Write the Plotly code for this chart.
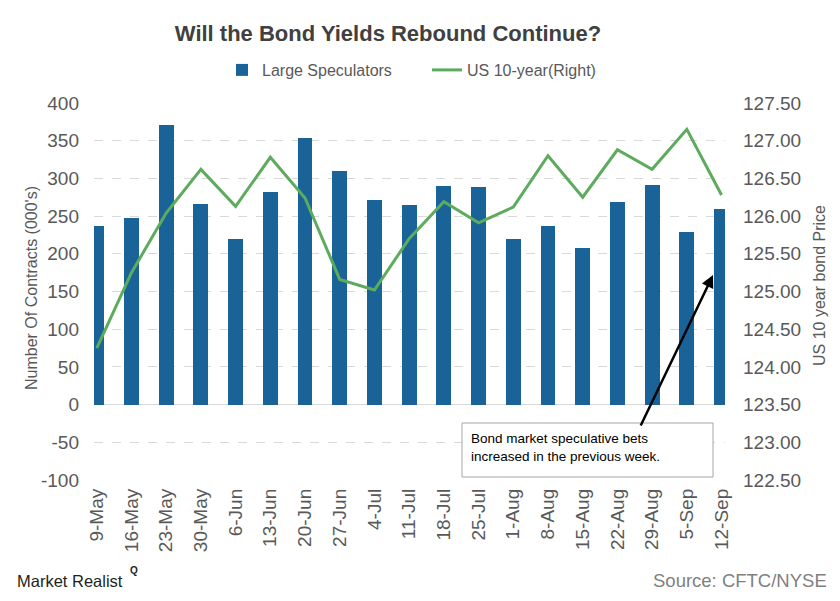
import plotly.graph_objects as go

# ---- data ----
dates = ["9-May", "16-May", "23-May", "30-May", "6-Jun", "13-Jun", "20-Jun", "27-Jun",
         "4-Jul", "11-Jul", "18-Jul", "25-Jul", "1-Aug", "8-Aug", "15-Aug", "22-Aug",
         "29-Aug", "5-Sep", "12-Sep"]
large_speculators = [237, 248, 371, 266, 220, 282, 354, 310, 272, 265, 290, 289,
                     219, 237, 208, 269, 291, 229, 260]
us_10_year = [124.25, 125.25, 126.04, 126.62, 126.13, 126.78, 126.24, 125.16, 125.02,
              125.70, 126.19, 125.91, 126.12, 126.80, 126.25, 126.88, 126.62, 127.15, 126.28]
left_ticks = [-100, -50, 0, 50, 100, 150, 200, 250, 300, 350, 400]
left_tick_labels = ["-100", "-50", "0", "50", "100", "150", "200", "250", "300", "350", "400"]
right_ticks = [122.5, 123.0, 123.5, 124.0, 124.5, 125.0, 125.5, 126.0, 126.5, 127.0, 127.5]

# page has an 8px body margin; work in reference-pixel coordinates
OFF = 8
W, H = 840 - 2 * OFF, 601 - 2 * OFF
L, R, T, B = 94, 725, 103, 480  # plot area in reference pixels


def px_x(x):
    return (x - L) / (R - L)


def px_y(y):
    return (B - y) / (B - T)


FONT = "Liberation Sans, Arial, sans-serif"
NARROW = "Liberation Sans Narrow, Arial Narrow, Liberation Sans, sans-serif"
GRAY = "#595959"
idx = list(range(len(dates)))

fig = go.Figure()
fig.add_trace(go.Bar(
    x=idx, y=large_speculators, name="Large Speculators",
    marker=dict(color="#1a6399", line=dict(width=0)), width=0.43,
))
fig.add_trace(go.Scatter(
    x=idx, y=us_10_year, name="US 10-year(Right)", yaxis="y2",
    mode="lines", line=dict(color="#5dab5d", width=3),
))

fig.update_layout(
    width=W, height=H,
    margin=dict(l=L - OFF, r=(840 - OFF) - R, t=T - OFF, b=(601 - OFF) - B, pad=0),
    paper_bgcolor="white", plot_bgcolor="white",
    font=dict(family=FONT, color=GRAY),
    showlegend=True,
    title=dict(text="<b>Will the Bond Yields Rebound Continue?</b>",
               font=dict(size=22, color="#404040", family=FONT),
               xref="container", yref="container", x=(388 - OFF) / W, y=1 - (33 - OFF) / H,
               xanchor="center", yanchor="middle"),
    legend=dict(orientation="h", x=px_x(222), y=px_y(70), xanchor="left", yanchor="middle",
                font=dict(size=16, color=GRAY), itemwidth=30, traceorder="normal",
                entrywidth=160, bgcolor="rgba(0,0,0,0)"),
    xaxis=dict(range=[-0.08, 18.1], tickmode="array", tickvals=idx, ticktext=dates,
               tickangle=-90, tickfont=dict(size=19, color=GRAY), showgrid=False,
               showline=False, zeroline=False, ticks="", ticklabelstandoff=4),
    yaxis=dict(range=[-100, 400], tickmode="array", tickvals=left_ticks,
               ticktext=left_tick_labels,
               tickfont=dict(size=19, color=GRAY), showgrid=True, gridcolor="#d9d9d9",
               griddash="dash", gridwidth=1, zeroline=True, zerolinecolor="#d9d9d9",
               zerolinewidth=1, showline=False, ticks="", ticklabelstandoff=14),
    yaxis2=dict(range=[122.5, 127.5], tickmode="array", tickvals=right_ticks,
                tickformat=".2f", overlaying="y", side="right", showgrid=False,
                zeroline=False, showline=False, ticks="",
                tickfont=dict(size=19, color=GRAY), ticklabelstandoff=17),
    bargap=0,
)

annotations = [
    dict(text="Number Of Contracts (000's)", x=px_x(31), y=px_y(288), xref="paper", yref="paper",
         textangle=-90, showarrow=False, font=dict(size=16, color=GRAY),
         xanchor="center", yanchor="middle"),
    dict(text="US 10 year bond Price", x=px_x(819), y=px_y(286), xref="paper", yref="paper",
         textangle=-90, showarrow=False, font=dict(size=16, color=GRAY),
         xanchor="center", yanchor="middle"),
    dict(text="Bond market speculative bets<br>increased in the previous week.",
         x=px_x(469), y=px_y(447), xref="paper", yref="paper", showarrow=False,
         align="left", xanchor="left", yanchor="middle",
         font=dict(size=13.5, color="#000000", family=NARROW)),
    dict(text="", x=px_x(713), y=px_y(275), xref="paper", yref="paper",
         showarrow=True, ax=640 - 713, ay=427 - 275, axref="pixel", ayref="pixel",
         arrowhead=2, arrowsize=1, arrowwidth=2.5, arrowcolor="#000000"),
    dict(text="Market Realist", x=px_x(15), y=px_y(581), xref="paper", yref="paper",
         showarrow=False, xanchor="left", yanchor="middle",
         font=dict(size=16.5, color="#231f20", family=NARROW)),
    dict(text="<b>Q</b>", x=px_x(128), y=px_y(570), xref="paper", yref="paper",
         showarrow=False, xanchor="left", yanchor="middle",
         font=dict(size=10, color="#231f20", family=FONT)),
    dict(text="Source: CFTC/NYSE", x=px_x(829), y=px_y(580), xref="paper", yref="paper",
         showarrow=False, xanchor="right", yanchor="middle",
         font=dict(size=18.5, color="#7f7f7f", family=FONT)),
]
fig.update_layout(annotations=annotations)

fig.add_shape(type="rect", xref="paper", yref="paper",
              x0=px_x(462), x1=px_x(713), y0=px_y(423), y1=px_y(477),
              line=dict(color="#a6a6a6", width=1), fillcolor="white", layer="above")

fig.write_html("out.html")
